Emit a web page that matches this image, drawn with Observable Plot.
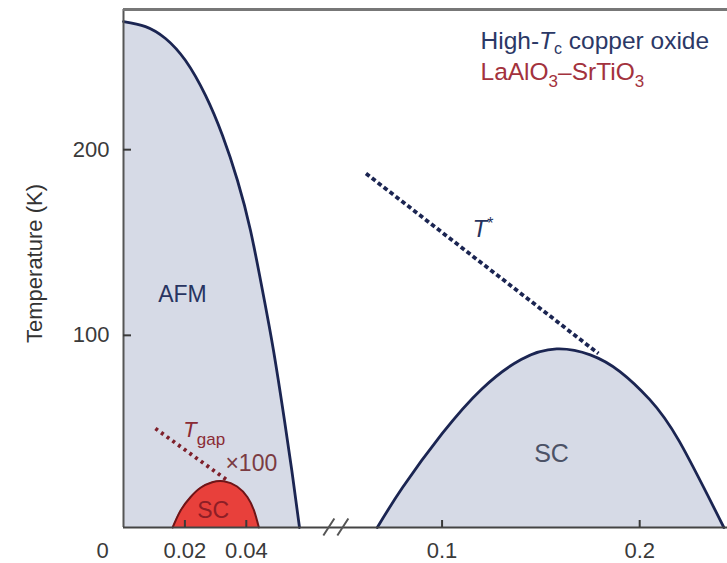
<!DOCTYPE html>
<html><head><meta charset="utf-8">
<script src="https://cdn.jsdelivr.net/npm/d3@7"></script>
<script src="https://cdn.jsdelivr.net/npm/@observablehq/plot@0.6"></script>
<style>
body{margin:0;background:#fff;}
#chart{width:727px;height:563px;overflow:hidden;}
</style>
</head><body><div id="chart"></div>
<script>
// ---------- data (doping x, temperature K) ----------
const afmDoping = [0, 0.00717, 0.01368, 0.0202, 0.02671, 0.03225, 0.03713, 0.04137, 0.04528, 0.04886, 0.05244, 0.05505, 0.05733];
const afmTemp   = [269, 266.3, 259.9, 248, 229.2, 207.6, 183.4, 156.5, 124.1, 91.8, 54.1, 24.5, -3.5];

const lasDoping = [0.016, 0.0186, 0.0218, 0.0251, 0.0289, 0.0327, 0.037, 0.0404, 0.0425, 0.0441];
const lasTemp   = [-3.5, 5.7, 12.8, 17.9, 20.9, 21.4, 18.6, 12.8, 5.7, -3.5];

const cuDoping = [0.0672, 0.08, 0.10, 0.12, 0.14, 0.158, 0.175, 0.19, 0.205, 0.22, 0.2426];
const cuTemp   = [-3.5, 18, 47, 71, 87, 92.7, 89.5, 80.5, 65.5, 43, -3.5];

const tgapDoping = [0.0104, 0.0339];
const tgapTemp   = [49.8, 21.8];

const tstarDoping = [0.0615, 0.1791];
const tstarTemp   = [187.2, 90.2];

const xTickValues = [0.02, 0.04, 0.1, 0.2];
const xOriginTick = [0];
const yTickValues = [100, 200];

const annotations = [
  {label: "AFM", d: 0.0192, t: 122, color: "#283461", size: 23, anchor: "middle"},
  {label: "SC", d: 0.1554, t: 35.9, color: "#4c5266", size: 25, anchor: "middle"},
  {label: "SC", d: 0.0292, t: 5.8, color: "#8e1e26", size: 23, anchor: "middle"},
  {label: "T*", d: 0.1154, t: 157, color: "#26335e", size: 24, anchor: "start"},
  {label: "Tgap", d: 0.0195, t: 48.9, color: "#8a2b35", size: 22, anchor: "start"},
  {label: "×100", d: 0.0332, t: 31.1, color: "#7b3b42", size: 23, anchor: "start"}
];
const legendLines = ["High-Tc copper oxide", "LaAlO3–SrTiO3"];
const yLabel = "Temperature (K)";

// ---------- scales (broken x axis via piecewise domain) ----------
const BASE = -3.5, TOP = 275.5;
const X_DOMAIN = [0, 0.060, 0.061, 0.25];
const X_RANGE  = [123, 307.2, 364.5, 738];
const BREAK_AT = 0.0605;

const zip = (xs, ys) => xs.map((d, i) => ({d, t: ys[i]}));
const afm = zip(afmDoping, afmTemp);
const las = zip(lasDoping, lasTemp);
const cu  = zip(cuDoping, cuTemp);
const tgap = zip(tgapDoping, tgapTemp);
const tstar = zip(tstarDoping, tstarTemp);

const breakSymbol = {
  draw(ctx) {
    ctx.moveTo(-13, 8); ctx.lineTo(-2, -9);
    ctx.moveTo(1, 8); ctx.lineTo(12, -9);
  }
};

const NAVY = "#1b2552";
const FILL = "#d6dae6";

const chart = Plot.plot({
  width: 727, height: 563,
  marginLeft: 123, marginRight: 0, marginTop: 9, marginBottom: 36,
  x: {type: "linear", domain: X_DOMAIN, range: X_RANGE, axis: null},
  y: {type: "linear", domain: [BASE, TOP], range: [527, 9], axis: null},
  style: {fontFamily: "'Liberation Sans', Arial, sans-serif", background: "#fff"},
  marks: [
    Plot.areaY(afm, {x: "d", y1: BASE, y2: "t", fill: FILL, curve: "natural"}),
    Plot.line(afm, {x: "d", y: "t", stroke: NAVY, strokeWidth: 2.8, curve: "natural"}),
    Plot.areaY(cu, {x: "d", y1: BASE, y2: "t", fill: FILL, curve: "natural"}),
    Plot.line(cu, {x: "d", y: "t", stroke: NAVY, strokeWidth: 2.8, curve: "natural"}),
    Plot.areaY(las, {x: "d", y1: BASE, y2: "t", fill: "#e8403b", curve: "natural"}),
    Plot.line(las, {x: "d", y: "t", stroke: "#6e1518", strokeWidth: 2, curve: "natural"}),
    Plot.line(tgap, {x: "d", y: "t", stroke: "#7e1f2a", strokeWidth: 3.8, strokeDasharray: "3,4", strokeLinecap: "butt"}),
    Plot.line(tstar, {x: "d", y: "t", stroke: NAVY, strokeWidth: 3.8, strokeDasharray: "4.5,3", strokeLinecap: "butt"}),
    // frame
    Plot.ruleX([0], {stroke: "#555", strokeWidth: 2}),
    Plot.ruleY([TOP], {stroke: "#777", strokeWidth: 3}),
    Plot.ruleY([BASE], {stroke: "#444", strokeWidth: 2}),
    Plot.dot([BREAK_AT], {x: d => d, y: BASE, symbol: breakSymbol, r: 10, stroke: "#555", strokeWidth: 2, fill: "none"}),
    // axes
    Plot.axisY({ticks: yTickValues, tickSize: -8, tickPadding: 22, fontSize: 22, label: null, color: "#3a3a3a", strokeWidth: 2}),
    Plot.axisX({ticks: xTickValues, tickSize: -7, tickPadding: 22, fontSize: 22, label: null, color: "#3a3a3a", strokeWidth: 2, tickFormat: d => String(d)}),
    Plot.axisX({ticks: xOriginTick, tickSize: 0, tickPadding: 15, dx: -21, fontSize: 22, label: null, color: "#3a3a3a", tickFormat: d => String(d)}),
    Plot.text([yLabel], {frameAnchor: "left", text: d => d, rotate: -90, textAnchor: "middle", dx: -89, dy: -5, fontSize: 22, fill: "#333"}),
    // annotations
    ...annotations.map(a => Plot.text([a], {x: "d", y: "t", text: "label", fill: a.color, fontSize: a.size, textAnchor: a.anchor, lineAnchor: "middle"})),
    // legend
    Plot.text([legendLines[0]], {frameAnchor: "top-left", text: d => d, dx: 357, dy: 32, lineAnchor: "middle", textAnchor: "start", fontSize: 24.5, fill: "#2b3866"}),
    Plot.text([legendLines[1]], {frameAnchor: "top-left", text: d => d, dx: 357, dy: 63, lineAnchor: "middle", textAnchor: "start", fontSize: 24.5, fill: "#a3323d"})
  ]
});

const rich = {
  "High-Tc copper oxide": 'High-<tspan font-style="italic">T</tspan><tspan dy="5" font-size="16">c</tspan><tspan dy="-5"> copper oxide</tspan>',
  "LaAlO3–SrTiO3": 'LaAlO<tspan dy="7" font-size="17">3</tspan><tspan dy="-7">–SrTiO</tspan><tspan dy="7" font-size="17">3</tspan>',
  "T*": '<tspan font-style="italic">T</tspan><tspan dy="-8" font-size="16">*</tspan>',
  "Tgap": '<tspan font-style="italic">T</tspan><tspan dy="8" font-size="17">gap</tspan>'
};
chart.querySelectorAll("text").forEach(t => {
  const k = t.textContent;
  if (rich[k]) t.innerHTML = rich[k];
});
document.getElementById("chart").appendChild(chart);
</script>
</body></html>
